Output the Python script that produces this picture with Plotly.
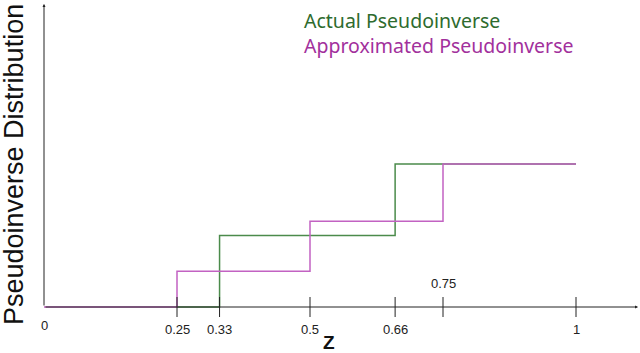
import plotly.graph_objects as go

# ---- data ----
actual_z = [0.25, 0.33, 0.66, 1.0]
actual_p = [0.0, 0.5, 1.0, 1.0]
approx_z = [0.0, 0.25, 0.5, 0.75, 1.0]
approx_p = [0.0, 0.25, 0.6, 1.0, 1.0]
tick_vals = [0.25, 0.33, 0.5, 0.66, 0.75, 1.0]
tick_text = ["0.25", "0.33", "0.5", "0.66", "0.75", "1"]
labels_above = ["0.75"]

W, H = 640, 353
# pixel mapping: z=0 -> 44px, z=1 -> 576px ; p=0 -> 307px, p=1 -> 164px
sx = 532.0
x0 = -44 / sx
x1 = x0 + W / sx
sy = 143.0
y0 = -(H - 307) / sy
y1 = 307 / sy

GREEN = "#4b8b4b"
MAGENTA = "#c262c2"

fig = go.Figure()

# step lines
fig.add_trace(go.Scatter(x=actual_z, y=actual_p, mode="lines", line_shape="hv",
                         line=dict(color=GREEN, width=1.5), hoverinfo="skip"))
fig.add_trace(go.Scatter(x=approx_z, y=approx_p, mode="lines", line_shape="hv",
                         line=dict(color=MAGENTA, width=1.5), hoverinfo="skip"))

# tick marks crossing the z axis
tx, ty = [], []
for v in tick_vals:
    tx += [v, v, None]
    ty += [-10 / sy, 10 / sy, None]
fig.add_trace(go.Scatter(x=tx, y=ty, mode="lines", line=dict(color="#222", width=1),
                         hoverinfo="skip"))

annotations = []
# axes with arrows
annotations.append(dict(x=x0 + 638 / sx, y=0, ax=0, ay=0, xref="x", yref="y",
                        axref="x", ayref="y", text="", showarrow=True,
                        arrowhead=2, arrowsize=0.6, arrowwidth=1, arrowcolor="#222"))
annotations.append(dict(x=0, y=(307 - 4) / sy, ax=0, ay=0, xref="x", yref="y",
                        axref="x", ayref="y", text="", showarrow=True,
                        arrowhead=2, arrowsize=0.6, arrowwidth=1, arrowcolor="#222"))

tickfont = dict(family="Liberation Sans, Arial", size=13, color="#222")
annotations.append(dict(x=0, y=-18 / sy, xref="x", yref="y", text="0",
                        xanchor="center", yanchor="middle",
                        showarrow=False, font=tickfont))
for v, t in zip(tick_vals, tick_text):
    if t in labels_above:
        yy = 24 / sy
    else:
        yy = -22 / sy
    annotations.append(dict(x=v, y=yy, xref="x", yref="y", text=t,
                            xanchor="center", yanchor="middle",
                            showarrow=False, font=tickfont))

# axis titles
annotations.append(dict(x=329 / W, y=1 - 342 / H, xref="paper", yref="paper", text="<b>Z</b>",
                        xanchor="center", yanchor="middle", showarrow=False,
                        font=dict(family="Liberation Sans, Arial", size=19, color="#111")))
annotations.append(dict(x=14 / W, y=1 - 165 / H, xref="paper", yref="paper",
                        text="Pseudoinverse Distribution", textangle=-90, showarrow=False,
                        xanchor="center", yanchor="middle",
                        font=dict(family="Liberation Sans, Arial", size=27, color="#111")))

# legend-like text
annotations.append(dict(x=302 / W, y=1 - 20 / H, xref="paper", yref="paper",
                        text="Actual Pseudoinverse", xanchor="left", yanchor="middle",
                        showarrow=False,
                        font=dict(family="Noto Sans", size=19.5, color="#2e6b2e")))
annotations.append(dict(x=302 / W, y=1 - 46 / H, xref="paper", yref="paper",
                        text="Approximated Pseudoinverse", xanchor="left", yanchor="middle",
                        showarrow=False,
                        font=dict(family="Noto Sans", size=19.5, color="#a2309c")))

fig.update_layout(
    width=W, height=H, margin=dict(l=0, r=0, t=0, b=0),
    paper_bgcolor="white", plot_bgcolor="white", showlegend=False,
    xaxis=dict(range=[x0, x1], visible=False),
    yaxis=dict(range=[y0, y1], visible=False),
    annotations=annotations,
)

fig.write_html("out.html", config={"displayModeBar": False},
               post_script="document.body.style.margin='0';document.body.style.overflow='hidden';")
